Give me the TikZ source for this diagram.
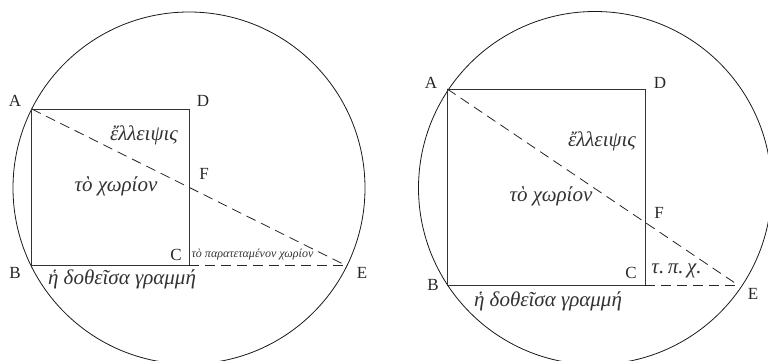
\documentclass[tikz,border=0pt]{standalone}
\usepackage{fontspec}
\setmainfont{Liberation Serif}
\begin{document}
\begin{tikzpicture}[x=1pt,y=-1pt,
  lbl/.style={anchor=base,inner sep=0pt,text=black!85,font=\fontsize{17}{20}\selectfont},
  gk/.style={anchor=base,inner sep=0pt,text=black!80,font=\fontsize{21}{24}\selectfont\itshape},
  gksmall/.style={anchor=base,inner sep=0pt,text=black!80,font=\fontsize{12}{14}\selectfont\itshape},
  side/.style={line width=0.9pt,draw=black!80},
  ring/.style={line width=0.8pt,draw=black!90},
  dline/.style={line width=0.8pt,draw=black!85,dash pattern=on 10pt off 6pt}]
\useasboundingbox (0,0) rectangle (768,361);
% ---------- left figure ----------
\coordinate (O1) at (189,188);
\coordinate (A1) at (31.7,109);
\coordinate (D1) at (189,109);
\coordinate (C1) at (189,265);
\coordinate (B1) at (31.7,265);
\coordinate (E1) at (345,265);
\draw[ring] (O1) circle[radius=176];
\draw[side] (A1) -- (D1) -- (C1) -- (B1) -- cycle;
\draw[dline] (A1) -- (E1);
\draw[dline] (C1) -- (E1);
\node[lbl] (lA1) at (15,106.7) {A};
\node[lbl] (lD1) at (203,106) {D};
\node[lbl] (lF1) at (204,179) {F};
\node[lbl] (lC1) at (176,260) {C};
\node[lbl] (lB1) at (15,278) {B};
\node[lbl] (lE1) at (362,278) {E};
\node[gk] (ell1) at (144,140) {ἔλλειψις};
\node[gk] (cho1) at (116,191.5) {τὸ χωρίον};
\node[gk] (gram1) at (122,284) {ἡ δοθεῖσα γραμμή};
\node[gksmall] (par1) at (252.5,257.3) {τὸ παρατεταμένον χωρίον};
% ---------- right figure ----------
\coordinate (O2) at (595,188);
\coordinate (A2) at (447.3,89);
\coordinate (D2) at (645,89);
\coordinate (C2) at (645,285.7);
\coordinate (B2) at (447.3,285.7);
\coordinate (E2) at (739,285.7);
\draw[ring] (O2) circle[radius=176.5];
\draw[side] (A2) -- (D2) -- (C2) -- (B2) -- cycle;
\draw[dline] (A2) -- (E2);
\draw[dline] (C2) -- (E2);
\node[lbl] (lA2) at (431,88.3) {A};
\node[lbl] (lD2) at (660,88.3) {D};
\node[lbl] (lF2) at (659,218) {F};
\node[lbl] (lC2) at (631,278) {C};
\node[lbl] (lB2) at (433,290) {B};
\node[lbl] (lE2) at (753,299.3) {E};
\node[gk] (ell2) at (602,146) {ἔλλειψις};
\node[gk] (cho2) at (551,201.7) {τὸ χωρίον};
\node[gk] (gram2) at (548,306) {ἡ δοθεῖσα γραμμή};
\node[gk] (tpx2) at (676.5,273) {τ.\,π.\,χ.};
\end{tikzpicture}
\end{document}
